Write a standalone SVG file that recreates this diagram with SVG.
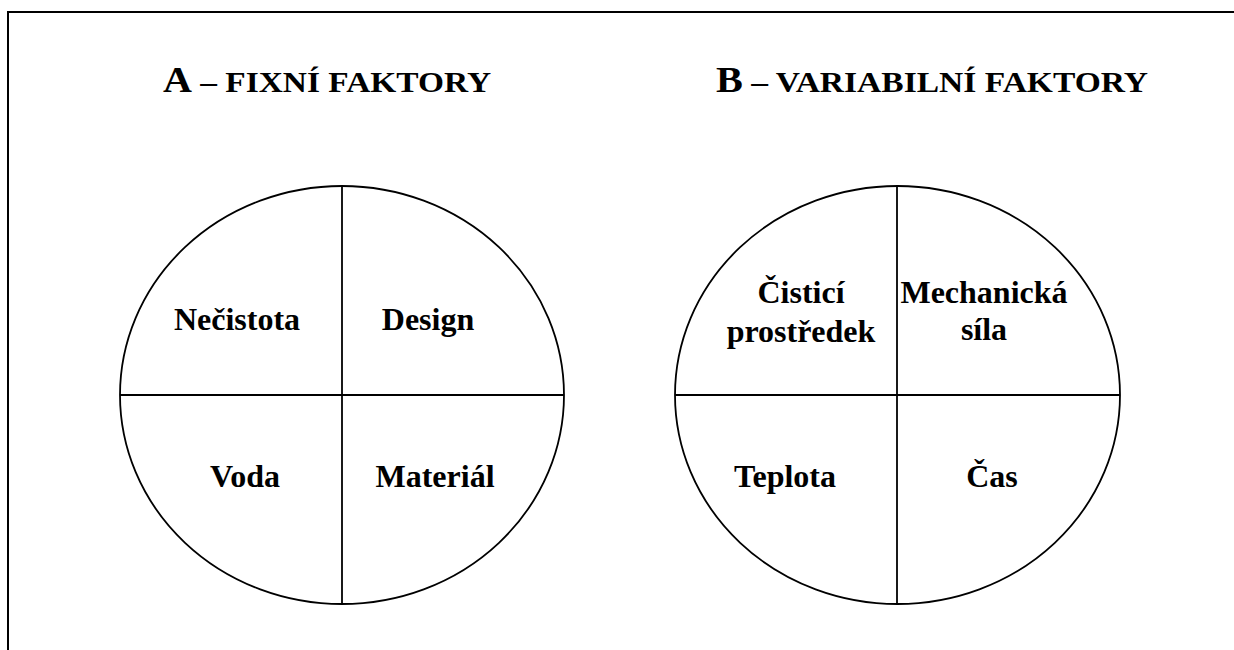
<svg xmlns="http://www.w3.org/2000/svg" width="1234" height="650" viewBox="0 0 1234 650">
  <style>
    .frame { fill: none; stroke: #000; stroke-width: 2; }
    .disc { fill: none; stroke: #000; stroke-width: 1.8; }
    .split { stroke: #000; stroke-width: 1.8; }
    .title { font-family: "Liberation Serif", "Times New Roman", serif; font-weight: bold; fill: #000; }
    .big { font-size: 36px; }
    .small { font-size: 30px; }
    .label { font-family: "Liberation Serif", "Times New Roman", serif; font-weight: bold; font-size: 32px; fill: #000; text-anchor: middle; }
  </style>
  <rect width="1234" height="650" fill="#fff"/>

  <!-- outer frame: only left and top edges fall inside the page -->
  <path class="frame" d="M8 650 V12 H1234"/>

  <!-- headings -->
  <g id="title-a">
    <text class="title" x="163" y="92" textLength="328" lengthAdjust="spacingAndGlyphs"><tspan class="big">A</tspan><tspan class="small"> – FIXNÍ FAKTORY</tspan></text>
  </g>
  <g id="title-b">
    <text class="title" x="716" y="92" textLength="432" lengthAdjust="spacingAndGlyphs"><tspan class="big">B</tspan><tspan class="small"> – VARIABILNÍ FAKTORY</tspan></text>
  </g>

  <!-- fixed factors disc -->
  <g id="disc-a">
    <ellipse class="disc" cx="342" cy="395" rx="222" ry="209"/>
    <line class="split" x1="342" y1="186" x2="342" y2="604"/>
    <line class="split" x1="120" y1="395" x2="564" y2="395"/>
  </g>
  <g id="a-necistota"><text class="label" x="237" y="330">Nečistota</text></g>
  <g id="a-design"><text class="label" x="428" y="330">Design</text></g>
  <g id="a-voda"><text class="label" x="245" y="487">Voda</text></g>
  <g id="a-material"><text class="label" x="435" y="487">Materiál</text></g>

  <!-- variable factors disc -->
  <g id="disc-b">
    <ellipse class="disc" cx="897.5" cy="395" rx="222.5" ry="209"/>
    <line class="split" x1="897" y1="186" x2="897" y2="604"/>
    <line class="split" x1="675" y1="395" x2="1120" y2="395"/>
  </g>
  <g id="b-cistici"><text class="label" x="801" y="303">Čisticí</text><text class="label" x="801" y="342">prostředek</text></g>
  <g id="b-mechanicka"><text class="label" x="984" y="303">Mechanická</text><text class="label" x="984" y="340">síla</text></g>
  <g id="b-teplota"><text class="label" x="785" y="487">Teplota</text></g>
  <g id="b-cas"><text class="label" x="992" y="487">Čas</text></g>
</svg>
